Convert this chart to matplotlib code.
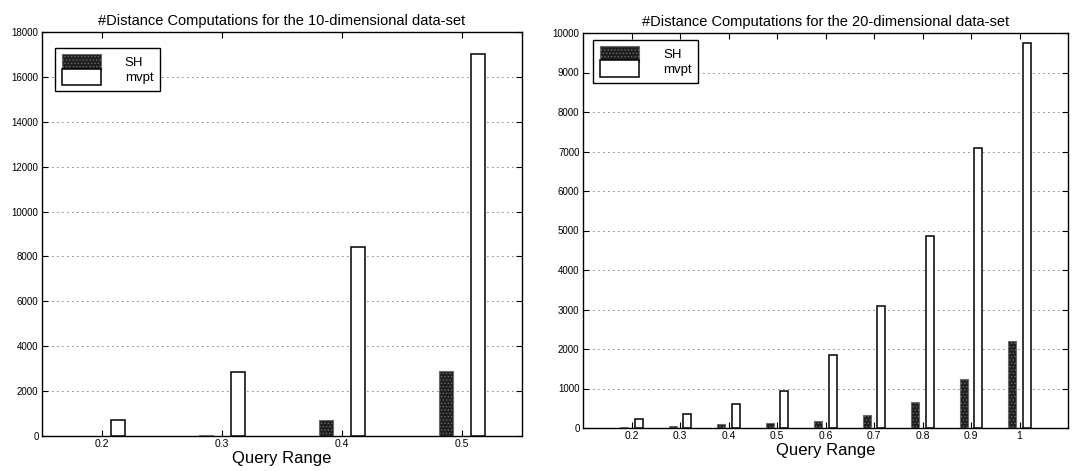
import matplotlib
matplotlib.use("Agg")
import matplotlib.pyplot as plt
from matplotlib.patches import Patch, Rectangle
from matplotlib.legend_handler import HandlerPatch
import numpy as np

plt.rcParams['font.family'] = ['Liberation Sans', 'DejaVu Sans']
plt.rcParams['hatch.linewidth'] = 0.6

# Left chart: 10-dimensional data-set
ranges10 = [0.2, 0.3, 0.4, 0.5]
sh10 = [20, 60, 700, 2900]
mvpt10 = [720, 2850, 8400, 17000]
yticks10 = list(range(0, 18001, 2000))

# Right chart: 20-dimensional data-set
ranges20 = [0.2, 0.3, 0.4, 0.5, 0.6, 0.7, 0.8, 0.9, 1.0]
sh20 = [20, 50, 90, 130, 180, 330, 650, 1250, 2200]
mvpt20 = [220, 350, 600, 940, 1840, 3080, 4870, 7080, 9750]
xticklabels20 = ['0.2', '0.3', '0.4', '0.5', '0.6', '0.7', '0.8', '0.9', '1']
yticks20 = list(range(0, 10001, 1000))

titles = ['#Distance Computations for the 10-dimensional data-set',
          '#Distance Computations for the 20-dimensional data-set']
labels = ['SH', 'mvpt']
xlabel = 'Query Range'

W, H = 1073, 471
fig = plt.figure(figsize=(W / 100, H / 100), dpi=100)

ax1 = fig.add_axes([42 / W, 35 / H, 480 / W, 404 / H])
ax2 = fig.add_axes([583 / W, 43 / H, 485 / W, 395 / H])

sh_style = dict(facecolor='#1e1e1e', edgecolor='#6a6a6a', hatch='.....', linewidth=0.8)
mv_style = dict(facecolor='white', edgecolor='black', linewidth=1.1)


class TallPatchHandler(HandlerPatch):
    """Legend patch that fills the whole row so stacked entries touch."""
    def __init__(self, extra=3.0, **kw):
        super().__init__(**kw)
        self.extra = extra

    def create_artists(self, legend, orig_handle, xdescent, ydescent,
                       width, height, fontsize, trans):
        p = Rectangle((-xdescent, -ydescent - self.extra / 2), width, height + self.extra)
        self.update_prop(p, orig_handle, legend)
        p.set_transform(trans)
        return [p]


def draw(ax, xs, sh, mv, off, width, yticks, xlim, title, xtl, leg_anchor):
    xs = np.array(xs)
    ax.bar(xs - off, sh, width=width, zorder=3, **sh_style)
    ax.bar(xs + off, mv, width=width, zorder=3, **mv_style)
    ax.set_xlim(*xlim)
    ax.set_ylim(yticks[0], yticks[-1])
    ax.set_yticks(yticks)
    ax.set_yticklabels([str(v) for v in yticks], fontsize=7)
    ax.set_xticks(xs)
    ax.set_xticklabels(xtl, fontsize=7.5)
    ax.tick_params(direction='in', length=4, width=0.8, top=True, right=True, pad=2.5)
    ax.yaxis.grid(True, linestyle=(0, (1, 5)), color='black', linewidth=0.6)
    ax.set_axisbelow(True)
    for s in ax.spines.values():
        s.set_linewidth(1.0)
    ax.set_title(title, fontsize=10.5, pad=5)
    ax.set_xlabel(xlabel, fontsize=12, labelpad=1)
    handles = [Patch(**sh_style, label=labels[0]), Patch(**mv_style, label=labels[1])]
    leg = ax.legend(handles=handles, loc='upper left', bbox_to_anchor=leg_anchor,
                    borderaxespad=0, fontsize=9.5, frameon=True, fancybox=False,
                    edgecolor='black', framealpha=1, handlelength=3.0, handleheight=1.3,
                    labelspacing=0.0, handletextpad=1.8, borderpad=0.5,
                    handler_map={Patch: TallPatchHandler(extra=1.2)})
    leg.get_frame().set_linewidth(1.0)


draw(ax1, ranges10, sh10, mvpt10, 0.0137, 0.0117, yticks10, (0.15, 0.55), titles[0],
     [f'{v:.1f}' for v in ranges10], (0.027, 0.96))
draw(ax2, ranges20, sh20, mvpt20, 0.0147, 0.0168, yticks20, (0.1, 1.1), titles[1],
     xticklabels20, (0.021, 0.982))

fig.savefig('out.png', dpi=100)
